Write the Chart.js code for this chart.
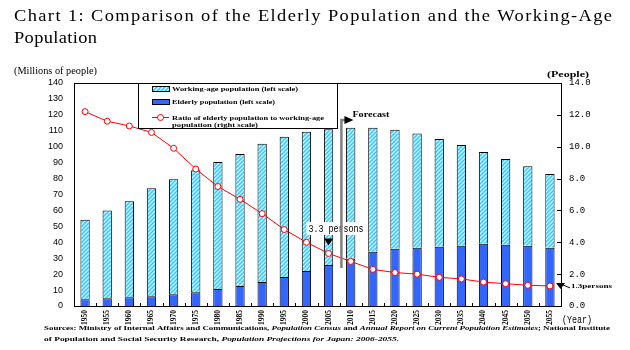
<!DOCTYPE html>
<html>
<head>
<meta charset="utf-8">
<script src="https://cdn.jsdelivr.net/npm/chart.js@4/dist/chart.umd.min.js"></script>
<style>
  html, body { margin: 0; padding: 0; background: #fff; }
</style>
</head>
<body>
<canvas id="chart" width="630" height="350"></canvas>
<script>
// data
const years = ['1950', '1955', '1960', '1965', '1970', '1975', '1980', '1985', '1990', '1995', '2000',
  '2005', '2010', '2015', '2020', '2025', '2030', '2035', '2040', '2045', '2050', '2055'];
const elderlyPop = [4.2, 4.9, 5.5, 6.1, 7.4, 8.7, 10.6, 12.5, 15.0, 18.2, 22.0,
  25.8, 29.6, 34.0, 35.9, 36.5, 37.2, 37.8, 39.1, 38.4, 37.8, 36.5];
const workingAgePop = [50.0, 55.1, 60.2, 67.8, 72.2, 76.6, 79.8, 82.9, 86.8, 88.0, 87.4,
  85.2, 82.3, 77.9, 74.7, 71.8, 67.7, 63.3, 57.6, 53.9, 50.0, 46.3];
const ratioPeople = [12.2, 11.6, 11.3, 10.9, 9.9, 8.6, 7.5, 6.7, 5.8, 4.8, 4.0,
  3.3, 2.8, 2.3, 2.1, 2.0, 1.8, 1.7, 1.5, 1.4, 1.3, 1.26];
const leftMax = 140, leftStep = 10;
const rightMax = 14, rightStep = 2;
const forecastAfter = 11; // forecast starts after 2005

const ctx = document.getElementById('chart').getContext('2d');

// hatched cyan fill for working-age bars
function makeHatch() {
  const c = document.createElement('canvas');
  c.width = 4; c.height = 4;
  const g = c.getContext('2d');
  g.fillStyle = '#fff';
  g.fillRect(0, 0, 4, 4);
  g.strokeStyle = '#33CCFF';
  g.lineWidth = 1.6;
  g.beginPath();
  g.moveTo(-1, 5); g.lineTo(5, -1);
  g.moveTo(-1, 1); g.lineTo(1, -1);
  g.moveTo(3, 5); g.lineTo(5, 3);
  g.stroke();
  return ctx.createPattern(c, 'repeat');
}
const hatch = makeHatch();

// text squeezed/stretched to a given width
function fitText(g, text, x, y, w, font) {
  g.save();
  g.font = font;
  const m = g.measureText(text).width;
  g.translate(x, y);
  g.scale(w / m, 1);
  g.fillText(text, 0, 0);
  g.restore();
}

// widened glyphs plus letter spacing, to mimic the wide mincho title
function spreadText(g, text, x, y, w, font, sx) {
  g.save();
  g.font = font;
  g.letterSpacing = '0px';
  const m = g.measureText(text).width;
  const extra = (w / sx - m) / (text.length - 1);
  g.letterSpacing = extra + 'px';
  g.translate(x, y);
  g.scale(sx, 1);
  g.fillText(text, 0, 0);
  g.restore();
}

// mixed plain / italic runs on one line, fitted to width
function mixedLine(g, runs, x, y, w, size) {
  g.save();
  let total = 0;
  runs.forEach(r => {
    g.font = (r[1] ? 'italic ' : '') + 'bold ' + size + 'px "Liberation Serif"';
    total += g.measureText(r[0]).width;
  });
  const k = w / total;
  g.translate(x, y);
  g.scale(k, 1);
  let cx = 0;
  runs.forEach(r => {
    g.font = (r[1] ? 'italic ' : '') + 'bold ' + size + 'px "Liberation Serif"';
    g.fillText(r[0], cx, 0);
    cx += g.measureText(r[0]).width;
  });
  g.restore();
}

const extras = {
  id: 'extras',
  afterDraw(chart) {
    const g = chart.ctx;
    const a = chart.chartArea;
    const x = chart.scales.x;
    const y2 = chart.scales.y2;
    g.save();
    g.fillStyle = '#000';
    g.textBaseline = 'alphabetic';
    g.textAlign = 'left';

    // title
    spreadText(g, 'Chart 1: Comparison of the Elderly Population and the Working-Age', 14, 21, 598, '16px "Liberation Serif"', 1.15);
    spreadText(g, 'Population', 14, 43, 83, '16px "Liberation Serif"', 1.15);

    // axis units
    fitText(g, '(Millions of people)', 14, 74, 83, '10px "Liberation Serif"');
    fitText(g, '(People)', 547, 77, 42, 'bold 9px "Liberation Serif"');
    fitText(g, '(Year)', 562, 323, 30, '10px "Liberation Mono"');

    // frame top + inward ticks
    g.strokeStyle = '#000';
    g.lineWidth = 1;
    g.beginPath();
    g.moveTo(a.left, a.top + 0.5);
    g.lineTo(a.right, a.top + 0.5);
    for (let v = 0; v <= rightMax; v += rightStep) {
      const py = Math.round(y2.getPixelForValue(v)) + 0.5;
      g.moveTo(a.right - 4, py);
      g.lineTo(a.right, py);
    }
    for (let i = 1; i < years.length; i++) {
      const px = Math.round((x.getPixelForValue(i - 1) + x.getPixelForValue(i)) / 2) + 0.5;
      g.moveTo(px, a.bottom - 3);
      g.lineTo(px, a.bottom);
    }
    g.stroke();

    // legend box
    const lx = 138, ly = a.top, lw = 199, lh = 45;
    g.fillStyle = '#fff';
    g.fillRect(lx, ly, lw, lh);
    g.strokeRect(lx + 0.5, ly + 0.5, lw, lh);
    g.fillStyle = hatch;
    g.fillRect(152, 86, 17, 5);
    g.strokeRect(152.5, 86.5, 17, 5);
    g.fillStyle = '#3366FF';
    g.fillRect(152, 99, 17, 5);
    g.strokeRect(152.5, 99.5, 17, 5);
    g.strokeStyle = '#FF0000';
    g.beginPath();
    g.moveTo(152, 117.5);
    g.lineTo(169, 117.5);
    g.stroke();
    g.fillStyle = '#fff';
    g.beginPath();
    g.arc(160.5, 117.5, 3, 0, Math.PI * 2);
    g.fill();
    g.stroke();
    g.fillStyle = '#000';
    const lf = 'bold 7px "Liberation Serif"';
    fitText(g, 'Working-age population (left scale)', 172, 91, 126, lf);
    fitText(g, 'Elderly population (left scale)', 172, 104, 103, lf);
    fitText(g, 'Ratio of elderly population to working-age', 172, 119.5, 152, lf);
    fitText(g, 'population (right scale)', 172, 126.5, 86, lf);

    // "3.3 persons" label with arrow to 2005 point
    const p05 = x.getPixelForValue(forecastAfter);
    const r05 = y2.getPixelForValue(ratioPeople[forecastAfter]);
    g.fillStyle = '#fff';
    g.fillRect(p05 - 22, 222, 58, 13);
    g.fillStyle = '#000';
    fitText(g, '3.3 persons', p05 - 20, 232, 55, '10px "Liberation Mono"');
    g.beginPath();
    g.moveTo(p05 - 4.5, r05 - 15);
    g.lineTo(p05 + 4.5, r05 - 15);
    g.lineTo(p05, r05 - 8);
    g.closePath();
    g.fill();

    // forecast marker
    const fx = x.getPixelForValue(forecastAfter) + 0.58 * (x.getPixelForValue(forecastAfter + 1) - x.getPixelForValue(forecastAfter));
    g.strokeStyle = '#808080';
    g.lineWidth = 2.5;
    g.beginPath();
    g.moveTo(fx, 268);
    g.lineTo(fx, 120);
    g.lineTo(fx + 4, 120);
    g.stroke();
    g.fillStyle = '#000';
    g.beginPath();
    g.moveTo(fx + 3, 116);
    g.lineTo(fx + 12, 120);
    g.lineTo(fx + 3, 124);
    g.closePath();
    g.fill();
    fitText(g, 'Forecast', fx + 11, 117, 37, 'bold 8px "Liberation Serif"');

    // "1.3persons" marker at the end
    const last = years.length - 1;
    const rl = y2.getPixelForValue(ratioPeople[last]);
    g.beginPath();
    g.moveTo(a.right - 5, rl - 3);
    g.lineTo(a.right + 4, rl - 3);
    g.lineTo(a.right - 0.5, rl + 3);
    g.closePath();
    g.fill();
    g.strokeStyle = '#000';
    g.lineWidth = 1;
    g.beginPath();
    g.moveTo(a.right + 2, rl - 1);
    g.lineTo(a.right + 9, rl + 2);
    g.stroke();
    fitText(g, '1.3persons', a.right + 10, rl + 2.5, 41, 'bold 7px "Liberation Serif"');

    // sources
    mixedLine(g, [
      ['Sources: Ministry of Internal Affairs and Communications, ', false],
      ['Population Census', true],
      [' and ', false],
      ['Annual Report on Current Population Estimates', true],
      ['; National Institute', false]
    ], 44, 330, 566, 7);
    mixedLine(g, [
      ['of Population and Social Security Research, ', false],
      ['Population Projections for Japan: 2006-2055.', true]
    ], 44, 341, 355, 7);

    g.restore();
  }
};

new Chart(ctx, {
  data: {
    labels: years,
    datasets: [
      {
        type: 'line',
        label: 'Ratio of elderly population to working-age population (right scale)',
        data: ratioPeople,
        yAxisID: 'y2',
        borderColor: '#FF0000',
        borderWidth: 1,
        pointRadius: 3,
        pointBorderWidth: 1,
        pointBackgroundColor: '#fff',
        pointBorderColor: '#FF0000',
        tension: 0,
        order: 0
      },
      {
        type: 'bar',
        label: 'Elderly population (left scale)',
        data: elderlyPop,
        yAxisID: 'y',
        stack: 'pop',
        backgroundColor: '#3366FF',
        borderColor: '#000',
        borderWidth: 1,
        barPercentage: 0.42,
        categoryPercentage: 1,
        order: 1
      },
      {
        type: 'bar',
        label: 'Working-age population (left scale)',
        data: workingAgePop,
        yAxisID: 'y',
        stack: 'pop',
        backgroundColor: hatch,
        borderColor: '#000',
        borderWidth: 1,
        barPercentage: 0.42,
        categoryPercentage: 1,
        order: 1
      }
    ]
  },
  options: {
    responsive: false,
    animation: false,
    layout: { padding: { top: 83, left: 0, right: 0, bottom: 0 } },
    plugins: {
      legend: { display: false },
      title: { display: false },
      tooltip: { enabled: false }
    },
    scales: {
      x: {
        stacked: true,
        offset: true,
        grid: { display: false, drawTicks: false },
        border: { display: true, color: '#000', width: 1 },
        ticks: {
          color: '#000',
          font: { family: 'Liberation Serif', size: 7.5, weight: 'bold' },
          minRotation: 90,
          maxRotation: 90,
          autoSkip: false,
          padding: 4
        },
        afterFit: s => { s.height = 44; }
      },
      y: {
        stacked: true,
        position: 'left',
        min: 0,
        max: leftMax,
        grid: { display: false, drawTicks: false },
        border: { display: true, color: '#000', width: 1 },
        ticks: {
          stepSize: leftStep,
          color: '#000',
          padding: 11,
          font: { family: 'Liberation Sans', size: 9 }
        },
        afterFit: s => { s.width = 74; }
      },
      y2: {
        position: 'right',
        min: 0,
        max: rightMax,
        grid: { display: false, drawTicks: false },
        border: { display: true, color: '#000', width: 1 },
        ticks: {
          stepSize: rightStep,
          color: '#000',
          padding: 8,
          font: { family: 'Liberation Mono', size: 9 },
          callback: v => v.toFixed(1)
        },
        afterFit: s => { s.width = 69; }
      }
    }
  },
  plugins: [extras]
});
</script>
</body>
</html>
